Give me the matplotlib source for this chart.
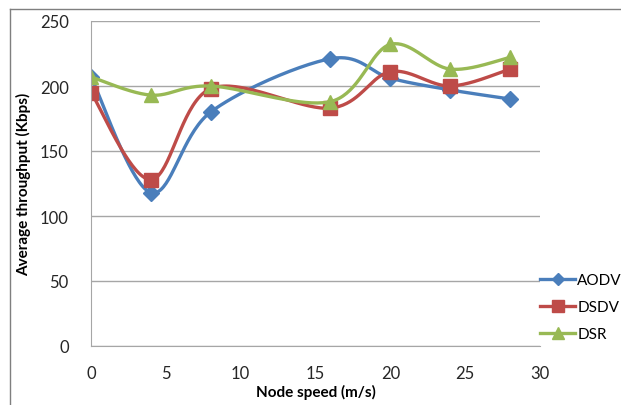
import numpy as np
import matplotlib
matplotlib.use('Agg')
import matplotlib.pyplot as plt
from matplotlib.lines import Line2D

# Data
speed = [0, 4, 8, 16, 20, 24, 28]
aodv = [207, 118, 180, 221, 206, 197, 190]
dsdv = [195, 128, 198, 183, 211, 200, 213]
dsr = [207, 193, 200, 188, 232, 213, 222]

plt.rcParams['font.family'] = ['Lato', 'DejaVu Sans']

# rough pixel scale, used so the smoothing looks like Excel's
sx, sy = 15.0, 1.3


def smooth(x, y, n=40):
    # Excel-like smoothed line: cubic bezier with catmull-rom control points
    p = np.column_stack([np.array(x) * sx, np.array(y) * sy])
    pts = np.vstack([p[0], p, p[-1]])
    out = []
    for i in range(1, len(pts) - 2):
        p0, p1, p2, p3 = pts[i - 1], pts[i], pts[i + 1], pts[i + 2]
        b1 = p1 + (p2 - p0) / 6
        b2 = p2 - (p3 - p1) / 6
        t = np.linspace(0, 1, n)[:, None]
        seg = (1 - t) ** 3 * p1 + 3 * (1 - t) ** 2 * t * b1 + 3 * (1 - t) * t ** 2 * b2 + t ** 3 * p2
        out.append(seg)
    c = np.vstack(out)
    return c[:, 0] / sx, c[:, 1] / sy


fig = plt.figure(figsize=(6.21, 4.06), dpi=100)
ax = fig.add_axes([91 / 621, 1 - 347 / 406, 449 / 621, 325 / 406])

series = [
    ('AODV', aodv, '#4A7EBB', 'D', 8),
    ('DSDV', dsdv, '#BE4B48', 's', 10),
    ('DSR', dsr, '#98B954', '^', 10),
]
for name, vals, col, mk, ms in series:
    xs, ys = smooth(speed, vals)
    ax.plot(xs, ys, color=col, lw=2.4, solid_capstyle='round')
    ax.plot(speed, vals, linestyle='none', marker=mk, color=col, markersize=ms)

ax.set_xlim(0, 30)
ax.set_ylim(0, 250)
ax.set_xticks(range(0, 31, 5))
ax.set_yticks(range(0, 251, 50))
ax.grid(axis='y', color='#a6a6a6', lw=1)
ax.set_axisbelow(True)
for s in ['top', 'right']:
    ax.spines[s].set_visible(False)
ax.spines['left'].set_color('#a6a6a6')
ax.spines['bottom'].set_color('#a6a6a6')
ax.tick_params(length=0, labelsize=12, colors='#262626')
ax.tick_params(axis='y', pad=16)
ax.tick_params(axis='x', pad=14)
ax.set_xlabel('Node speed (m/s)', fontsize=11, fontweight='bold', labelpad=2)
ax.set_ylabel('Average throughput (Kbps)', fontsize=11, fontweight='bold', labelpad=6)

# legend at the right edge, as in the original
handles = [Line2D([], [], color=c, lw=2.4, marker=m, markersize=s - 2) for _, _, c, m, s in series]
fig.legend(handles, [s[0] for s in series], loc='upper left', bbox_to_anchor=(540 / 621, 1 - 274 / 406),
           frameon=False, fontsize=11, handlelength=2.3, handletextpad=0.15, labelspacing=0.85,
           borderaxespad=0, borderpad=0)

# chart border
fig.add_artist(Line2D([10 / 621, 10 / 621], [0, 1 - 10 / 406], color='#7f7f7f', lw=1, transform=fig.transFigure))
fig.add_artist(Line2D([10 / 621, 1], [1 - 10 / 406, 1 - 10 / 406], color='#7f7f7f', lw=1, transform=fig.transFigure))

fig.savefig('out.png', dpi=100)
